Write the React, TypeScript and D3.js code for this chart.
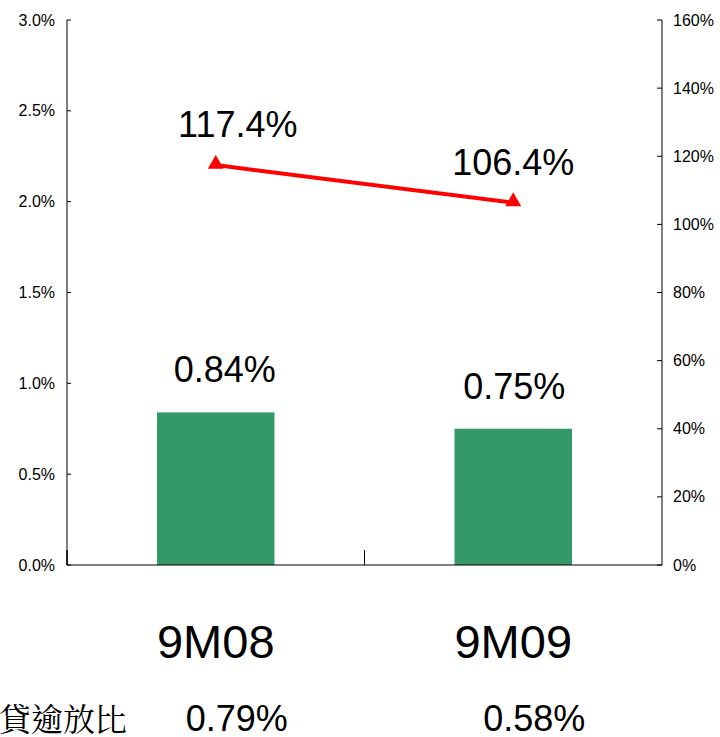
import React from "react";
import * as d3 from "d3";

const categories = ["9M08", "9M09"];
const nplRatio = [0.84, 0.75]; // left axis, %
const coverage = [117.4, 106.4]; // right axis, %
const mortgageLabel = "房貸逾放比";
const mortgageNpl = [0.79, 0.58];
const leftTicks = [0, 0.5, 1.0, 1.5, 2.0, 2.5, 3.0];
const rightTicks = [0, 20, 40, 60, 80, 100, 120, 140, 160];

const W = 720;
const H = 737;
const left = 67;
const right = 662;
const top = 20;
const bottom = 565;

export default function App() {
  const x = d3.scaleBand<string>().domain(categories).range([left, right]).padding(0);
  const yL = d3.scaleLinear().domain([0, 3]).range([bottom, top]);
  const yR = d3.scaleLinear().domain([0, 160]).range([bottom, top]);
  const bw = x.bandwidth() * 0.395;
  const cx = (c: string) => (x(c) as number) + x.bandwidth() / 2;
  const line = d3
    .line<number>()
    .x((_, i) => cx(categories[i]))
    .y((d) => yR(d));
  const tri = d3.symbol().type(d3.symbolTriangle).size(110)();
  const font = "Arial, 'Liberation Sans', sans-serif";
  const barLabelDx = [9, 1];
  const lineLabelDx = [22, 0];
  const bottomDx = [21, 21];

  return (
    <svg width={W} height={H} style={{ position: "absolute", left: 0, top: 0, background: "#fff" }} fontFamily={font}>
      <rect x={0} y={0} width={W} height={H} fill="#fff" />
      {/* bars */}
      {categories.map((c, i) => (
        <rect key={c} x={cx(c) - bw / 2} y={yL(nplRatio[i])} width={bw} height={bottom - yL(nplRatio[i])} fill="#339966" />
      ))}
      {/* axes */}
      <line x1={left} x2={left} y1={top} y2={bottom} stroke="#000" strokeWidth={1} />
      <line x1={right} x2={right} y1={top} y2={bottom} stroke="#000" strokeWidth={1} />
      <line x1={left} x2={right} y1={bottom} y2={bottom} stroke="#000" strokeWidth={1.2} />
      {categories.slice(1).map((c) => (
        <line key={c} x1={x(c) as number} x2={x(c) as number} y1={bottom - 15} y2={bottom} stroke="#000" />
      ))}
      <line x1={left} x2={left} y1={bottom - 15} y2={bottom} stroke="#000" strokeWidth={1.5} />
      {leftTicks.map((t) => (
        <g key={"l" + t}>
          <line x1={left} x2={left + 4} y1={yL(t)} y2={yL(t)} stroke="#000" />
          <text x={left - 12} y={yL(t)} dy="0.35em" textAnchor="end" fontSize={16}>
            {d3.format(".1f")(t) + "%"}
          </text>
        </g>
      ))}
      {rightTicks.map((t) => (
        <g key={"r" + t}>
          <line x1={right - 5} x2={right} y1={yR(t)} y2={yR(t)} stroke="#000" />
          <text x={right + 11} y={yR(t)} dy="0.35em" textAnchor="start" fontSize={16}>
            {t + "%"}
          </text>
        </g>
      ))}
      {/* line */}
      <path d={line(coverage) || ""} fill="none" stroke="#ff0000" strokeWidth={4} />
      {coverage.map((v, i) => (
        <path key={i} d={tri || ""} transform={`translate(${cx(categories[i])},${yR(v) - 1})`} fill="#ff0000" />
      ))}
      {/* labels */}
      {coverage.map((v, i) => (
        <text key={"cl" + i} x={cx(categories[i]) + lineLabelDx[i]} y={yR(v) - 28} textAnchor="middle" fontSize={36}>
          {v.toFixed(1) + "%"}
        </text>
      ))}
      {nplRatio.map((v, i) => (
        <text key={"bl" + i} x={cx(categories[i]) + barLabelDx[i]} y={yL(v) - 30} textAnchor="middle" fontSize={36}>
          {v.toFixed(2) + "%"}
        </text>
      ))}
      {categories.map((c) => (
        <text key={"cat" + c} x={cx(c)} y={658} textAnchor="middle" fontSize={47}>
          {c}
        </text>
      ))}
      <text x={127} y={731} textAnchor="end" fontSize={32} fontFamily="'Noto Serif CJK TC', 'Noto Sans CJK TC', serif">
        {mortgageLabel}
      </text>
      {mortgageNpl.map((v, i) => (
        <text key={"m" + i} x={cx(categories[i]) + bottomDx[i]} y={731} textAnchor="middle" fontSize={36}>
          {v.toFixed(2) + "%"}
        </text>
      ))}
    </svg>
  );
}
